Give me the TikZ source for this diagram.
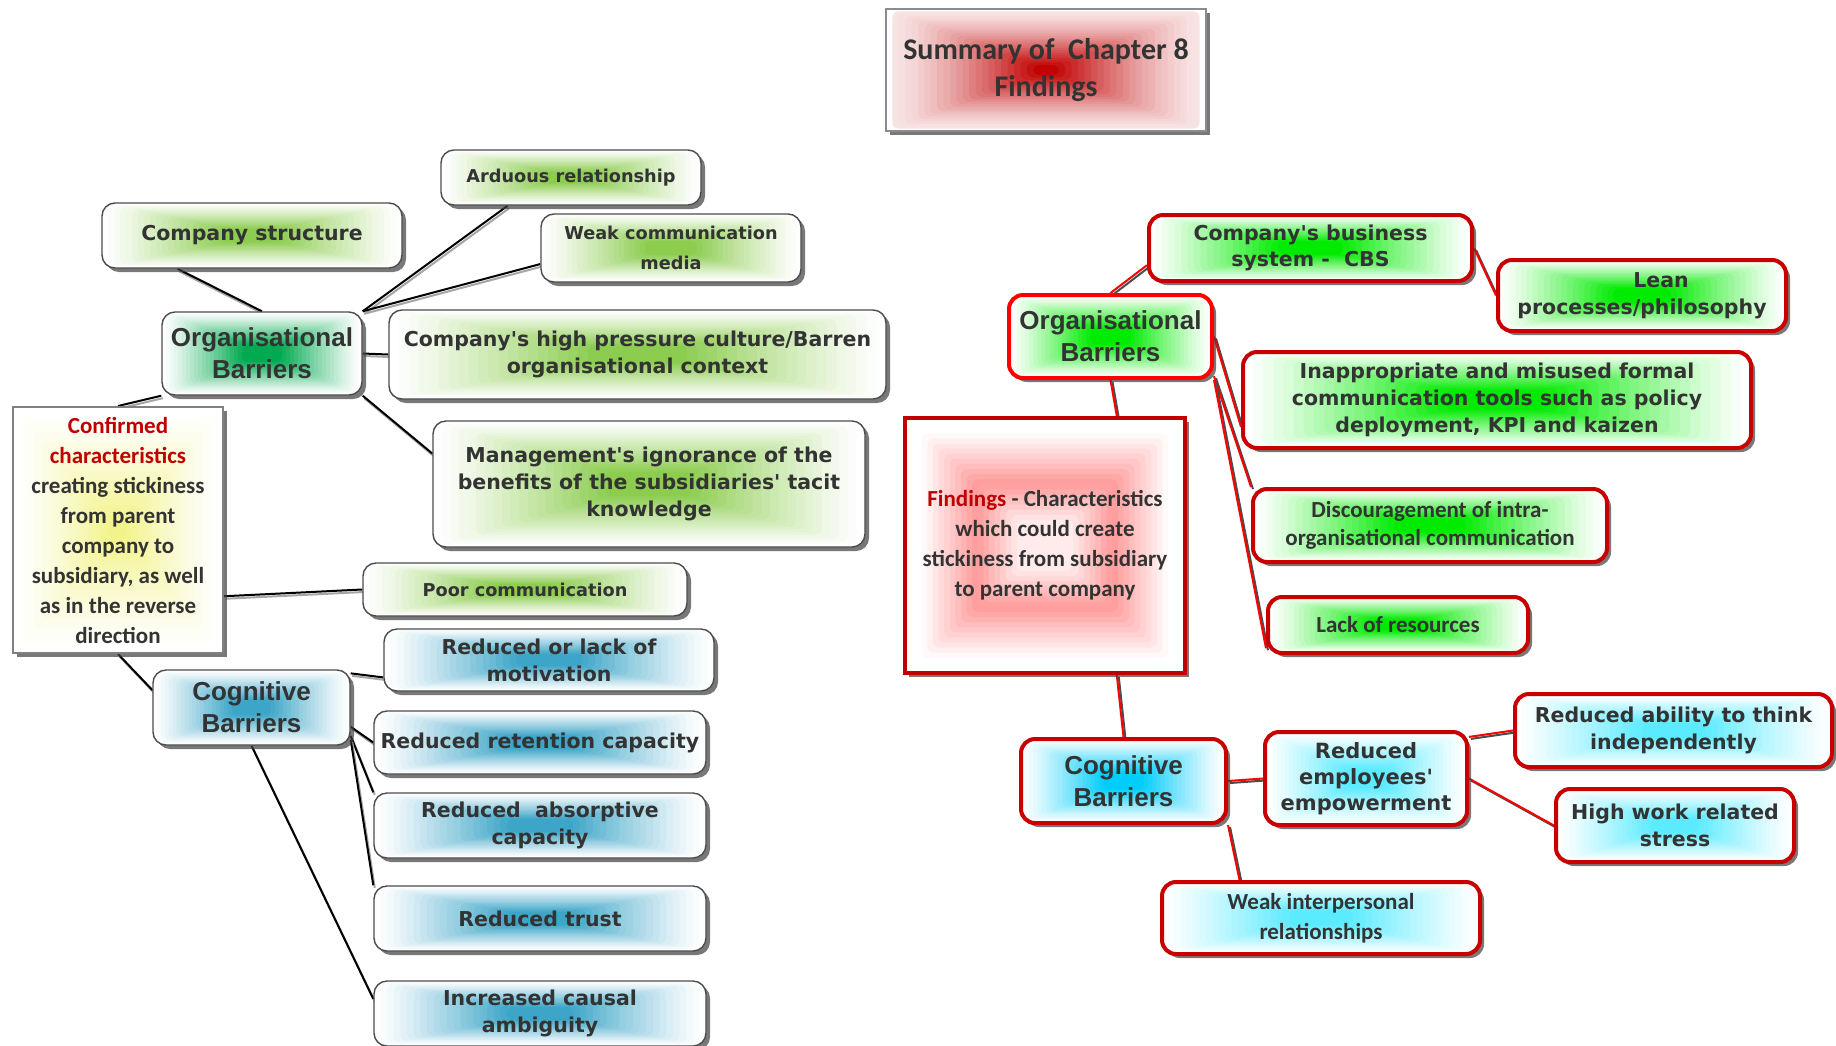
\documentclass[tikz,border=0pt]{standalone}
\usepackage{fontspec}
\newfontfamily\vfont{DejaVu Sans}
\newfontfamily\afont{Liberation Sans}
\newfontfamily\cfont{Carlito}
\usetikzlibrary{shadows,calc}
\definecolor{txt}{RGB}{51,51,51}
\definecolor{cred}{RGB}{192,0,0}
\definecolor{leafg}{RGB}{140,205,80}
\definecolor{orgg}{RGB}{0,170,80}
\definecolor{tealc}{RGB}{60,165,200}
\definecolor{yel}{RGB}{240,240,110}
\definecolor{brg}{RGB}{0,235,0}
\definecolor{cyanc}{RGB}{0,205,250}
\definecolor{lcyan}{RGB}{90,235,255}
\definecolor{rborder}{RGB}{200,0,0}
\definecolor{titred}{RGB}{192,0,0}
\colorlet{glowc}{white}
\newcommand\FV[2]{\vfont\bfseries\fontsize{#1}{#2}\selectfont}
\newcommand\FA[2]{\afont\bfseries\fontsize{#1}{#2}\selectfont}
\newcommand\FC[2]{\cfont\bfseries\fontsize{#1}{#2}\selectfont}
\pgfdeclarelayer{bg}
\pgfsetlayers{bg,main}
\tikzset{
  glowcol/.code={\colorlet{glowc}{#1}},
  rglow/.style n args={3}{fill=white, path picture={
    \foreach \f in {0.96,0.92,...,0.05}{
      \pgfmathtruncatemacro\p{min(100,#1+#2*(1-\f)^#3)}
      \fill[glowc!\p!white, rounded corners=6pt]
        ($(path picture bounding box.center)!\f!(path picture bounding box.south west)$) rectangle
        ($(path picture bounding box.center)!\f!(path picture bounding box.north east)$);
    }}},
  ringglow/.style={fill=white, path picture={
    \foreach \f in {0.96,0.92,...,0.05}{
      \pgfmathtruncatemacro\p{\f<0.5 ? max(8,40-110*(0.5-\f)) : max(0,40-100*(\f-0.5))}
      \fill[red!\p!white, rounded corners=6pt]
        ($(path picture bounding box.center)!\f!(path picture bounding box.south west)$) rectangle
        ($(path picture bounding box.center)!\f!(path picture bounding box.north east)$);
    }}},
  box/.style={align=center, text=txt, inner sep=0pt,
    drop shadow={shadow xshift=4pt, shadow yshift=-4pt, fill=black!75, opacity=.7}},
  lbox/.style={box, draw=black!70, line width=1.4pt, rounded corners=13pt, glowcol=#1, rglow={0}{130}{1.15}},
  rbox/.style={box, draw=rborder, line width=4pt, rounded corners=14pt, glowcol=#1, rglow={0}{130}{1.15}},
  lline/.style={black, line width=2pt},
  lshadow/.style={black!35, line width=2pt, transform canvas={shift={(1.5pt,-2.5pt)}}},
  rline/.style={red, line width=2pt},
  rshadow/.style={black!70, line width=2pt, transform canvas={shift={(2pt,-2pt)}}},
}
\begin{document}
\begin{tikzpicture}[x=1pt,y=-1pt]
\useasboundingbox (0,0) rectangle (1836,1045);
\begin{pgfonlayer}{bg}
\fill[white] (0,0) rectangle (1836,1045);
\end{pgfonlayer}

% title
\node[box, draw=black!45, line width=2pt, glowcol=titred, rglow={10}{100}{1.4}, minimum width=320, minimum height=122, font=\FC{30}{37}] (title) at (1046,70) {Summary of\ \ Chapter 8\\Findings};

% left side
\node[lbox=leafg, minimum width=300, minimum height=65, font=\FV{20.5}{27}] (cs) at (252,235.5) {Company structure};
\node[lbox=orgg, minimum width=200, minimum height=83, font=\FA{26}{32}] (orgL) at (262,353.5) {Organisational\\Barriers};
\node[lbox=leafg, minimum width=260, minimum height=55, font=\FV{17.7}{30}] (ard) at (571,177.5) {Arduous relationship};
\node[lbox=leafg, minimum width=260, minimum height=68, font=\FV{17.7}{30}] (wcm) at (671,248) {Weak communication\\media};
\node[lbox=leafg, minimum width=497, minimum height=89, font=\FV{20.5}{27}] (hpc) at (637.5,354.5) {Company's high pressure culture/Barren\\organisational context};
\node[lbox=leafg, minimum width=432, minimum height=126, font=\FV{20.5}{27}] (mgmt) at (649,484) {Management's ignorance of the\\benefits of the subsidiaries' tacit\\knowledge};
\node[box, draw=black!50, line width=2pt, glowcol=yel, rglow={0}{90}{1.3}, minimum width=210, minimum height=246, font=\FC{23}{30}] (conf) at (118,530) {{\color{cred}Confirmed}\\{\color{cred}characteristics}\\creating stickiness\\from parent\\company to\\subsidiary, as well\\as in the reverse\\direction};
\node[lbox=leafg, minimum width=324, minimum height=53, font=\FV{17.7}{30}] (poor) at (525,589.5) {Poor communication};
\node[lbox=tealc, minimum width=197, minimum height=75, font=\FA{26}{32}] (cogL) at (251.5,707.5) {Cognitive\\Barriers};
\node[lbox=tealc, minimum width=330, minimum height=62, font=\FV{20.5}{27}] (rlm) at (549,660) {Reduced or lack of\\motivation};
\node[lbox=tealc, minimum width=332, minimum height=63, font=\FV{20.5}{27}] (rrc) at (540,742.5) {Reduced retention capacity};
\node[lbox=tealc, minimum width=332, minimum height=65, font=\FV{20.5}{27}] (rac) at (540,825.5) {Reduced\ \ absorptive\\capacity};
\node[lbox=tealc, minimum width=332, minimum height=65, font=\FV{20.5}{27}] (rt) at (540,918.5) {Reduced trust};
\node[lbox=tealc, minimum width=332, minimum height=65, font=\FV{20.5}{27}] (ica) at (540,1013.5) {Increased causal\\ambiguity};

% right side
\node[box, draw=cred, line width=4pt, ringglow, minimum width=280, minimum height=255, font=\FC{23}{30}] (find) at (1045,545.5) {{\color{cred}Findings} - Characteristics\\which could create\\stickiness from subsidiary\\to parent company};
\node[rbox=brg, draw=red, minimum width=203, minimum height=83, font=\FA{26}{32}] (orgR) at (1110.5,336.5) {Organisational\\Barriers};
\node[rbox=brg, minimum width=323, minimum height=66, font=\FV{20.5}{26}] (cbs) at (1310.5,248) {Company's business\\system -\ \ CBS};
\node[rbox=brg, minimum width=288, minimum height=71, font=\FV{20.5}{27}] (lean) at (1642,295.5) {\hspace*{38pt}Lean\\processes/philosophy};
\node[rbox=brg, minimum width=508, minimum height=96, font=\FV{20.5}{27}] (inap) at (1497,400) {Inappropriate and misused formal\\communication tools such as policy\\deployment, KPI and kaizen};
\node[rbox=brg, minimum width=354, minimum height=73, font=\FC{23}{28}] (disc) at (1430,525.5) {Discouragement of intra-\\organisational communication};
\node[rbox=brg, minimum width=260, minimum height=56, font=\FC{23}{28}] (lack) at (1398,625) {Lack of resources};
\node[rbox=cyanc, minimum width=205, minimum height=84, font=\FA{26}{32}] (cogR) at (1123.5,781) {Cognitive\\Barriers};
\node[rbox=lcyan, minimum width=202, minimum height=93, font=\FV{21}{26}] (emp) at (1366,778.5) {Reduced\\employees'\\empowerment};
\node[rbox=lcyan, minimum width=317, minimum height=73, font=\FV{20.5}{27}] (rat) at (1673.5,730.5) {Reduced ability to think\\independently};
\node[rbox=lcyan, minimum width=238, minimum height=73, font=\FV{20.5}{27}] (hws) at (1675,825.5) {High work related\\stress};
\node[rbox=lcyan, minimum width=318, minimum height=72, font=\FC{23}{30}] (wir) at (1321,918) {Weak interpersonal\\relationships};

% connectors
\begin{pgfonlayer}{bg}
\foreach \a/\b in {cs.204/orgL.north, orgL.north east/ard.204, orgL.north east/wcm.187, orgL.east/hpc.west, orgL.south east/mgmt.172, orgL.south west/conf.north, conf.-32/poor.west, conf.south/cogL.170, cogL.19/rlm.186, cogL.-11/rrc.west, cogL.-16/rac.north west, cogL.-18/rt.north west, cogL.south/ica.175}{
  \draw[lshadow] (\a) -- (\b);
  \draw[lline] (\a) -- (\b);
}
\foreach \a/\b in {orgR.north/cbs.186, cbs.east/lean.west, orgR.east/inap.186, orgR.-21/disc.north west, orgR.south east/lack.190, orgR.south/find.61, find.-61/cogR.north, cogR.east/emp.west, emp.22/rat.west, emp.east/hws.west, cogR.south east/wir.155}{
  \draw[rshadow] (\a) -- (\b);
  \draw[rline] (\a) -- (\b);
}
\end{pgfonlayer}
\end{tikzpicture}
\end{document}
